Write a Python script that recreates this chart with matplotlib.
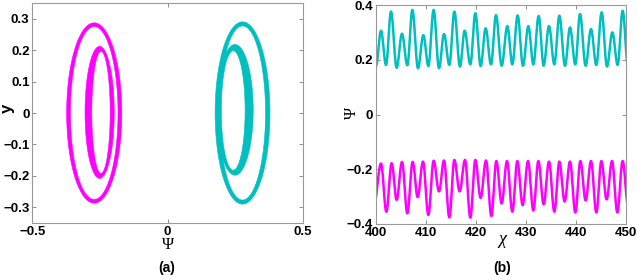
import numpy as np
import matplotlib
matplotlib.use("Agg")
import matplotlib.pyplot as plt
from matplotlib.path import Path
import matplotlib.patches as patches

MAGENTA = "#ff00ff"
CYAN = "#00bfbf"

# panel (a): rings as (outer cx, cy, semi-w, semi-h, hole cx, cy, semi-w, semi-h)
magenta_rings = [
    (-0.271, 0.000, 0.102, 0.287, -0.271, 0.000, 0.088, 0.275),
    (-0.251, 0.002, 0.054, 0.210, -0.246, 0.002, 0.034, 0.194),
]
cyan_rings = [
    (0.2775, 0.000, 0.1015, 0.290, 0.2775, 0.000, 0.085, 0.277),
    (0.2495, 0.010, 0.0675, 0.208, 0.243, 0.008, 0.044, 0.190),
]

# panel (b): extrema (chi, psi)
cyan_chi = [400.0, 401.0, 402.0, 403.0, 404.13, 405.2, 406.27, 407.27, 408.4, 409.47,
            410.47, 411.53, 412.6, 413.6, 414.67, 415.67, 416.8, 417.73, 418.87, 419.87,
            420.93, 421.93, 423.0, 424.0, 425.13, 426.27, 427.27, 428.33, 429.4, 430.47,
            431.47, 432.53, 433.53, 434.6, 435.67, 436.67, 437.8, 438.8, 439.87, 440.8,
            441.93, 443.0, 444.07, 445.13, 446.2, 447.27, 448.33, 449.33, 450.4]
cyan_psi = [0.178, 0.306, 0.181, 0.376, 0.171, 0.295, 0.180, 0.382, 0.169, 0.290,
            0.177, 0.382, 0.169, 0.294, 0.181, 0.376, 0.175, 0.306, 0.183, 0.370,
            0.177, 0.315, 0.183, 0.363, 0.178, 0.323, 0.183, 0.362, 0.178, 0.323,
            0.183, 0.360, 0.178, 0.323, 0.183, 0.361, 0.178, 0.318, 0.183, 0.367,
            0.178, 0.312, 0.181, 0.373, 0.175, 0.300, 0.181, 0.379, 0.175]

magenta_chi = [399.6, 401.0, 402.07, 403.13, 404.13, 405.2, 406.27, 407.33, 408.33, 409.4,
               410.47, 411.53, 412.6, 413.6, 414.67, 415.67, 416.73, 417.8, 418.87, 419.87,
               420.93, 422.0, 423.07, 424.07, 425.13, 426.2, 427.27, 428.27, 429.33, 430.4,
               431.47, 432.47, 433.53, 434.6, 435.67, 436.67, 437.73, 438.8, 439.87, 440.87,
               441.93, 443.0, 444.07, 445.07, 446.13, 447.2, 448.27, 449.33, 450.4]
magenta_psi = [-0.330, -0.179, -0.355, -0.178, -0.312, -0.173, -0.361, -0.173, -0.302, -0.172,
               -0.367, -0.169, -0.281, -0.168, -0.376, -0.166, -0.281, -0.166, -0.377, -0.166,
               -0.305, -0.168, -0.371, -0.170, -0.325, -0.170, -0.355, -0.170, -0.331, -0.170,
               -0.351, -0.170, -0.328, -0.172, -0.355, -0.172, -0.318, -0.172, -0.358, -0.170,
               -0.314, -0.170, -0.358, -0.170, -0.310, -0.170, -0.358, -0.170, -0.330]


def ring_patch(r, color):
    t = np.linspace(0, 2 * np.pi, 200)
    outer = np.column_stack([r[0] + r[2] * np.cos(t), r[1] + r[3] * np.sin(t)])
    hole = np.column_stack([r[4] + r[6] * np.cos(t[::-1]), r[5] + r[7] * np.sin(t[::-1])])
    verts = np.concatenate([outer, hole])
    codes = [Path.MOVETO] + [Path.LINETO] * 199 + [Path.MOVETO] + [Path.LINETO] * 199
    return patches.PathPatch(Path(verts, codes), facecolor=color, edgecolor=color, lw=0.4)


def smooth_trace(xs, ys, n=16):
    # half-cosine between consecutive extrema
    px, py = [], []
    for i in range(len(xs) - 1):
        s = np.linspace(0, 1, n, endpoint=False)
        w = (1 - np.cos(np.pi * s)) / 2
        px.extend(xs[i] + (xs[i + 1] - xs[i]) * s)
        py.extend(ys[i] + (ys[i + 1] - ys[i]) * w)
    px.append(xs[-1])
    py.append(ys[-1])
    return px, py


def style_axes(ax):
    for s in ax.spines.values():
        s.set_color("0.6")
        s.set_linewidth(0.8)
    ax.tick_params(direction="in", length=3, width=0.6, color="0.5",
                   top=True, right=True, labelsize=9.5, pad=2)
    for lab in ax.get_xticklabels() + ax.get_yticklabels():
        lab.set_fontweight("bold")
        lab.set_family("Liberation Sans")


W, H = 637, 280
fig = plt.figure(figsize=(6.37, 2.8), dpi=100)

ax1 = fig.add_axes([32.3 / W, 57 / H, 270.4 / W, 220 / H])
for r in magenta_rings:
    ax1.add_patch(ring_patch(r, MAGENTA))
for r in cyan_rings:
    ax1.add_patch(ring_patch(r, CYAN))
ax1.set_xlim(-0.5, 0.5)
ax1.set_ylim(-0.35, 0.35)
ax1.set_xticks([-0.5, 0, 0.5])
ax1.set_xticklabels(["\u22120.5", "0", "0.5"])
ax1.set_yticks([-0.3, -0.2, -0.1, 0, 0.1, 0.2, 0.3])
ax1.set_yticklabels(["\u22120.3", "\u22120.2", "\u22120.1", "0", "0.1", "0.2", "0.3"])
style_axes(ax1)

ax2 = fig.add_axes([376 / W, 56 / H, 250 / W, 219 / H])
cx, cy = smooth_trace(cyan_chi, cyan_psi)
mx, my = smooth_trace(magenta_chi, magenta_psi)
ax2.plot(cx, cy, color=CYAN, lw=1.8)
ax2.plot(mx, my, color=MAGENTA, lw=1.8)
ax2.set_xlim(400, 450)
ax2.set_ylim(-0.4, 0.4)
ax2.set_xticks([400, 410, 420, 430, 440, 450])
ax2.set_yticks([-0.4, -0.2, 0, 0.2, 0.4])
ax2.set_yticklabels(["\u22120.4", "\u22120.2", "0", "0.2", "0.4"])
style_axes(ax2)

# labels
fig.text(7 / W, 1 - 108 / H, "y", rotation=90, ha="center", va="center",
         fontsize=12, fontweight="bold", family="Liberation Sans")
fig.text(168 / W, 1 - 245 / H, "\u03a8", ha="center", va="center",
         fontsize=12, family="Liberation Serif")
fig.text(352 / W, 1 - 113 / H, "\u03a8", rotation=90, ha="center", va="center",
         fontsize=12, family="Liberation Serif")
fig.text(502 / W, 1 - 240 / H, "\u03c7", ha="center", va="center",
         fontsize=13, style="italic", family="Liberation Serif")
fig.text(167 / W, 1 - 268 / H, "(a)", ha="center", va="center",
         fontsize=10, fontweight="bold", family="Liberation Sans")
fig.text(502 / W, 1 - 268 / H, "(b)", ha="center", va="center",
         fontsize=10, fontweight="bold", family="Liberation Sans")

fig.savefig("out.png", dpi=100)
